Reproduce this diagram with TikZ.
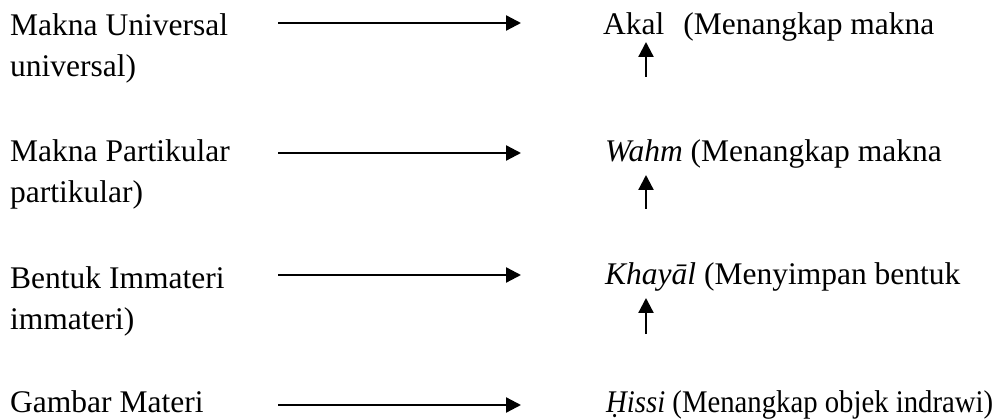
\documentclass[tikz,border=0pt]{standalone}
\usepackage{fontspec}
\setmainfont{Liberation Serif}
\usetikzlibrary{arrows.meta}
\begin{document}
\begin{tikzpicture}[x=1pt,y=-1pt,
  txt/.style={anchor=base west, inner sep=0pt, font=\fontsize{31.5}{36}\selectfont},
  conn/.style={line width=2.3pt, -{Triangle[length=15pt,width=15pt]}}]
\useasboundingbox (0,0) rectangle (1003,419);
% left column
\node[txt] (l1a) at (10,36) {Makna Universal};
\node[txt] (l1b) at (10,77) {universal)};
\node[txt] (l2a) at (10,162) {Makna Partikular};
\node[txt] (l2b) at (10,203) {partikular)};
\node[txt] (l3a) at (10,289) {Bentuk Immateri};
\node[txt] (l3b) at (10,330) {immateri)};
\node[txt] (l4a) at (10,412) {Gambar Materi};
% right column
\node[txt] (r1) at (603,35) {Akal\hspace{0.6em}(Menangkap makna};
\node[txt] (r2) at (605,162) {\textit{Wahm} (Menangkap makna};
\node[txt] (r3) at (605,285) {\textit{Khayāl} (Menyimpan bentuk};
\node[txt] (r4) at (606,412) {\scalebox{0.912}[1]{\textit{Ḥissi} (Menangkap objek indrawi)}};
% connector ends
\coordinate (h1s) at (278,23);  \coordinate (h1e) at (521,23);
\coordinate (h2s) at (278,153); \coordinate (h2e) at (521,153);
\coordinate (h3s) at (278,275); \coordinate (h3e) at (521,275);
\coordinate (h4s) at (278,405); \coordinate (h4e) at (521,405);
\coordinate (u1s) at (646,77);  \coordinate (u1e) at (646,42);
\coordinate (u2s) at (646,209); \coordinate (u2e) at (646,175);
\coordinate (u3s) at (646,334); \coordinate (u3e) at (646,298);
\draw[conn] (h1s) -- (h1e);
\draw[conn] (h2s) -- (h2e);
\draw[conn] (h3s) -- (h3e);
\draw[conn] (h4s) -- (h4e);
\draw[conn] (u1s) -- (u1e);
\draw[conn] (u2s) -- (u2e);
\draw[conn] (u3s) -- (u3e);
\end{tikzpicture}
\end{document}
